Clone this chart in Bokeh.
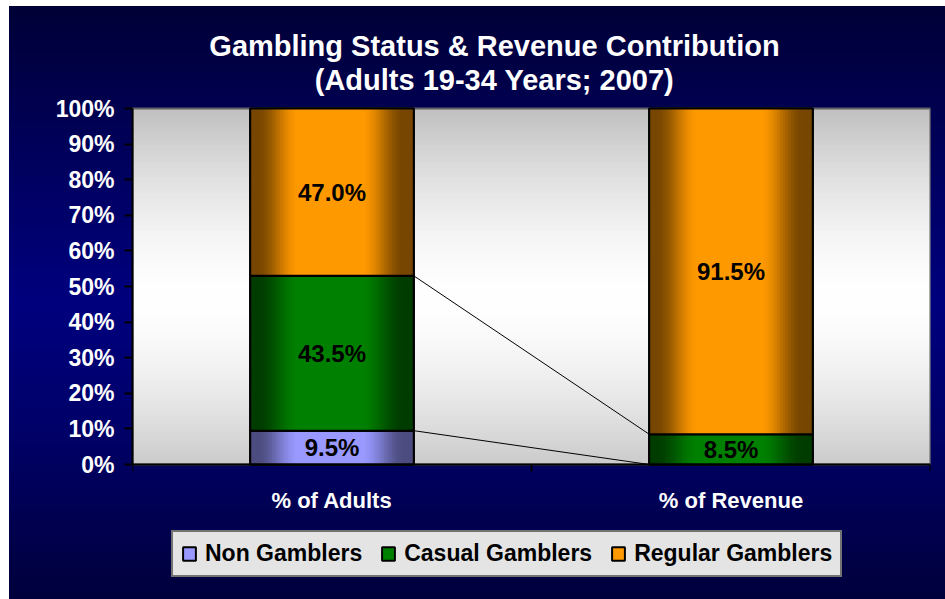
import numpy as np
from bokeh.plotting import figure
from bokeh.models import (FixedTicker, PrintfTickFormatter, Label, Legend,
                          LegendItem, Range1d)
from bokeh.core.properties import value
from bokeh.embed import file_html
from bokeh.resources import INLINE

# ---------------- data ----------------
categories = ["% of Adults", "% of Revenue"]
series_names = ["Non Gamblers", "Casual Gamblers", "Regular Gamblers"]
non_gamblers = [9.5, 0.0]
casual_gamblers = [43.5, 8.5]
regular_gamblers = [47.0, 91.5]
y_ticks = [0, 10, 20, 30, 40, 50, 60, 70, 80, 90, 100]
title_line1 = "Gambling Status & Revenue Contribution"
title_line2 = "(Adults 19-34 Years; 2007)"

# ---------------- layout / styles ----------------
FONT = "Liberation Sans"
bright = ["#9999ff", "#008000", "#ff9900"]
dark = ["#4c4c80", "#003c00", "#774600"]
BAR_W = 0.41
N_STRIPS = 60

W, H = 945, 599
FR_L, FR_R = 132, 930          # plot-area pixel edges
PA_TOP, PA_BOT = 108, 464      # pixel rows of 100% and 0%
Y0, Y1 = 0, 100
ppu = (PA_BOT - PA_TOP) / (Y1 - Y0)
y_lo = Y0 - (H - PA_BOT) / ppu
y_hi = Y1 + PA_TOP / ppu
X0, X1 = 0, len(categories)
xpu = (FR_R - FR_L) / (X1 - X0)


def px_x(px):
    return X0 + (px - FR_L) / xpu


def px_y(py):
    return Y0 + (PA_BOT - py) / ppu


p = figure(width=W, height=H, output_backend="svg", toolbar_location=None,
           tools="", x_range=Range1d(X0, X1), y_range=Range1d(y_lo, y_hi),
           min_border_left=FR_L, min_border_right=W - FR_R, min_border_top=0,
           min_border_bottom=0)
p.title.visible = False
p.border_fill_color = None
p.background_fill_color = None
p.outline_line_color = None
p.styles = {
    "background": "linear-gradient(to bottom, #000036 0%, #00006a 35%, #00007e 50%, "
                  "#00006a 70%, #00003c 100%) no-repeat 9px 6px / 936px 593px, #ffffff"
}
p.xgrid.visible = False
p.ygrid.visible = False

# plot-area vertical gradient (gray - white - gray)
rows = 200
f = (np.arange(rows) + 0.5) / rows
c = 0.47
g = np.abs(f - c) / max(c, 1 - c)
gray = (255 - 63 * g ** 1.6).astype(np.uint32)
img = np.empty((rows, 1), dtype=np.uint32)
view = img.view(dtype=np.uint8).reshape((rows, 1, 4))
view[:, 0, 0] = gray
view[:, 0, 1] = gray
view[:, 0, 2] = gray
view[:, 0, 3] = 255
p.image_rgba(image=[img], x=X0, y=Y0, dw=X1 - X0, dh=Y1 - Y0)
# plot-area border
p.quad(left=[X0], right=[X1], bottom=[Y0], top=[Y1], fill_color=None,
       line_color="#606060", line_width=2)

# ---------------- bars ----------------
centers = [i + 0.5 for i in range(len(categories))]
all_series = [non_gamblers, casual_gamblers, regular_gamblers]


def hex2rgb(h):
    h = h.lstrip("#")
    return np.array([int(h[i:i + 2], 16) for i in (0, 2, 4)], dtype=float)


def mix(d, b, t):
    return "#%02x%02x%02x" % tuple(int(round(v)) for v in (d + (b - d) * t))


def smooth(a, b, t):
    u = min(1.0, max(0.0, (t - a) / (b - a)))
    return u * u * (3 - 2 * u)


def profile(t):
    return smooth(0.04, 0.30, t) * (1 - smooth(0.68, 0.94, t))


bottoms = [0.0] * len(categories)
seg_bounds = []
legend_items = []
for si, vals in enumerate(all_series):
    segs = []
    for ci, v in enumerate(vals):
        segs.append((centers[ci], bottoms[ci], bottoms[ci] + v))
        bottoms[ci] += v
    seg_bounds.append(segs)

    nz = [s for s in segs if s[2] > s[1]]
    base = p.quad(left=[s[0] - BAR_W / 2 for s in nz], right=[s[0] + BAR_W / 2 for s in nz],
                  bottom=[s[1] for s in nz], top=[s[2] for s in nz],
                  fill_color=bright[si], line_color="black", line_width=2)
    legend_items.append(LegendItem(label=series_names[si], renderers=[base]))

    d, b = hex2rgb(dark[si]), hex2rgb(bright[si])
    L, R, B, T, C = [], [], [], [], []
    sw = BAR_W / N_STRIPS
    for s in nz:
        x0 = s[0] - BAR_W / 2
        for k in range(N_STRIPS):
            t = (k + 0.5) / N_STRIPS
            L.append(x0 + k * sw)
            R.append(min(x0 + (k + 1.5) * sw, s[0] + BAR_W / 2))
            B.append(s[1])
            T.append(s[2])
            C.append(mix(d, b, profile(t)))
    p.quad(left=L, right=R, bottom=B, top=T, fill_color=C, line_color=None)
    p.quad(left=[s[0] - BAR_W / 2 for s in nz], right=[s[0] + BAR_W / 2 for s in nz],
           bottom=[s[1] for s in nz], top=[s[2] for s in nz],
           fill_color=None, line_color="black", line_width=2)

# series lines
for si in range(len(all_series) - 1):
    segs = seg_bounds[si]
    for ci in range(len(segs) - 1):
        p.segment(x0=[segs[ci][0] + BAR_W / 2], y0=[segs[ci][2]],
                  x1=[segs[ci + 1][0] - BAR_W / 2], y1=[segs[ci + 1][2]],
                  line_color="black", line_width=1)

# data labels
lx, ly, lt = [], [], []
for si, vals in enumerate(all_series):
    for ci, v in enumerate(vals):
        if v > 0:
            s = seg_bounds[si][ci]
            lx.append(s[0])
            ly.append((s[1] + s[2]) / 2)
            lt.append(f"{v:.1f}%")
p.text(x=lx, y=ly, text=lt, text_align="center", text_baseline="middle",
       text_font=value(FONT), text_font_style="bold", text_font_size="24px",
       text_color="black")

# ---------------- axes ----------------
p.yaxis.bounds = (Y0, Y1)
p.yaxis.ticker = FixedTicker(ticks=y_ticks)
p.yaxis.formatter = PrintfTickFormatter(format="%d%%")
p.yaxis.major_label_text_color = "white"
p.yaxis.major_label_text_font = FONT
p.yaxis.major_label_text_font_style = "bold"
p.yaxis.major_label_text_font_size = "23px"
p.yaxis.axis_line_color = "black"
p.yaxis.axis_line_width = 2
p.yaxis.major_tick_line_color = "black"
p.yaxis.major_tick_line_width = 2
p.yaxis.major_tick_out = 8
p.yaxis.major_tick_in = 0
p.yaxis.minor_tick_line_color = None
p.yaxis.major_label_standoff = 10

p.xaxis.fixed_location = Y0
p.xaxis.ticker = FixedTicker(ticks=centers, minor_ticks=list(range(X0, X1 + 1)))
p.xaxis.major_label_overrides = {centers[i]: categories[i] for i in range(len(categories))}
p.xaxis.major_label_text_color = "white"
p.xaxis.major_label_text_font = FONT
p.xaxis.major_label_text_font_style = "bold"
p.xaxis.major_label_text_font_size = "22px"
p.xaxis.axis_line_color = "black"
p.xaxis.axis_line_width = 2
p.xaxis.major_tick_line_color = None
p.xaxis.major_tick_out = 0
p.xaxis.major_tick_in = 0
p.xaxis.minor_tick_line_color = "black"
p.xaxis.minor_tick_line_width = 2
p.xaxis.minor_tick_out = 7
p.xaxis.minor_tick_in = 0
p.xaxis.major_label_standoff = 16

# ---------------- title ----------------
for txt, py in ((title_line1, 45), (title_line2, 79)):
    p.add_layout(Label(x=px_x(494), y=px_y(py), text=txt,
                       text_align="center", text_baseline="middle",
                       text_color="white", text_font=FONT, text_font_style="bold",
                       text_font_size="29px"))

# ---------------- legend ----------------
legend = Legend(items=legend_items, orientation="horizontal",
                location=(171 - FR_L, H - 577),
                background_fill_color="#e4e4e4", background_fill_alpha=1,
                border_line_color="black", border_line_width=2,
                label_text_font=FONT, label_text_font_style="bold",
                label_text_font_size="23px", label_text_color="black",
                glyph_width=16, glyph_height=17, label_standoff=8,
                spacing=18, padding=8, margin=0)
p.add_layout(legend, "center")

open("out.html", "w").write(file_html(p, INLINE))
